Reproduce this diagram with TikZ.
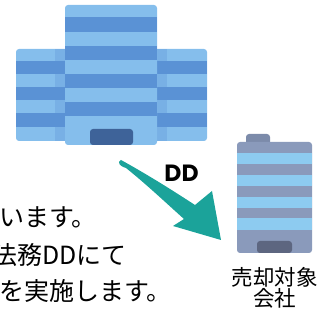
\documentclass[tikz,border=0pt]{standalone}
\usepackage{fontspec}
\setmainfont{Noto Sans CJK JP}
\newfontfamily\ddfont{Poppins}
\usepackage{tikz}
\usetikzlibrary{positioning}
\definecolor{hqlight}{HTML}{85BEEC}
\definecolor{hqdark}{HTML}{5A92D5}
\definecolor{hqdoor}{HTML}{3E6399}
\definecolor{tglight}{HTML}{8DCBF0}
\definecolor{tgdark}{HTML}{8A9ABB}
\definecolor{tgcap}{HTML}{7C8BAA}
\definecolor{tgdoor}{HTML}{5D6680}
\definecolor{ddteal}{HTML}{1BA39A}
\tikzset{
  block/.style={fill=#1, rounded corners=3pt},
  band/.style={fill=#1},
  shade/.style={fill=hqdark, opacity=0.3},
  body/.style={font=\fontsize{25}{38}\selectfont, inner sep=0pt, anchor=base west},
  caption/.style={font=\fontsize{21.5}{22}\selectfont, inner sep=0pt},
  ddlbl/.style={font=\ddfont\bfseries\fontsize{23.5}{23.5}\selectfont, inner sep=0pt, anchor=base},
}
% horizontal floors: x from, x to, colour, top/bottom pairs
\newcommand{\bands}[4]{%
  \foreach \t/\b in {#4} {\fill[band=#3] (#1,\t) rectangle (#2,\b);}}

\begin{document}
\begin{tikzpicture}[x=1pt,y=-1pt]
  \useasboundingbox (0,0) rectangle (327,320);
  \clip (0,0) rectangle (327,320);
  % buyer: wings, then the tower in front
  \fill[block=hqlight] (16,49) rectangle (207,141);
  \bands{16}{207}{hqdark}{61/74, 87/100, 113/127}
  \fill[shade] (55,49) rectangle (167,141);
  \fill[block=hqlight] (65,5) rectangle (157,145);
  \bands{65}{157}{hqdark}{17/32, 46/60, 74/88, 102/116}
  \fill[block=hqdoor] (90,129) rectangle (133,145);
  % target company
  \fill[block=tgcap] (246,134) rectangle (270,146);
  \fill[block=tgdark] (237,142) rectangle (312,253);
  \bands{237}{312}{tglight}{153/164, 175/186, 197/208, 218/230}
  \fill[block=tgdoor] (257,241) rectangle (292,253);
  % DD arrow
  \fill[ddteal] (121,160) .. controls (150,176) and (175,192) .. (195,205)
    -- (212,191) -- (221,240) -- (173,226) -- (184,219)
    .. controls (165,202) and (146,184) .. (126,168)
    .. controls (119,166) and (117,162) .. cycle;
  \node[ddlbl] (dd) at (181.5,182) {DD};
  % text
  \node[body] (l1) at (-1,227) {います。};
  \node[body] (l2) at (-8,265) {法務DDにて};
  \node[body] (l3) at (-1,301) {を実施します。};
  \node[caption, anchor=base] (co1) at (274.5,286) {売却対象};
  \node[caption, below=0pt of co1] (co2) {会社};
\end{tikzpicture}
\end{document}
